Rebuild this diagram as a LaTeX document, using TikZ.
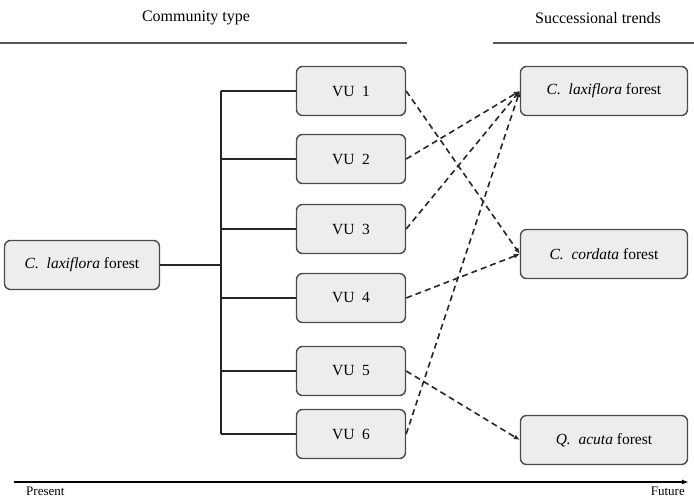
\documentclass[tikz,border=0pt]{standalone}
\usepackage{fontspec}
\setmainfont{Liberation Serif}
\usetikzlibrary{arrows.meta, positioning}

\begin{document}
\begin{tikzpicture}[
    x=1pt, y=-1pt,
    box/.style={draw=black!70, rounded corners=6pt, fill=black!7, line width=1.4pt, minimum height=49pt, font=\fontsize{15.5}{17}\selectfont},
    vubox/.style={box, minimum width=109pt},
    trendbox/.style={box, minimum width=167pt},
    header/.style={font=\fontsize{16}{18}\selectfont},
    axislabel/.style={inner sep=0pt, font=\fontsize{13}{14}\selectfont},
    branch/.style={draw, line width=1.4pt, black!85},
    trend/.style={draw, line width=1.6pt, black!85, dash pattern=on 6pt off 4pt, -{Latex[length=6pt,width=5pt]}}
]
\useasboundingbox (0,0) rectangle (694,498);

% Headers
\node[header] (hcomm) at (196,18) {Community type};
\node[header] (htrend) at (598,18) {Successional trends};
\draw[line width=2.4pt, black!65] (0,43) -- (407,43);
\draw[line width=2.4pt, black!65] (493,43) -- (694,43);

% Present community
\node[box, minimum width=155pt] (present) at (82,265) {\textit{C.\ \ laxiflora} forest};

% Vegetation units
\node[vubox] (vu1) at (351,91) {VU\ \ 1};
\node[vubox] (vu2) at (351,159) {VU\ \ 2};
\node[vubox] (vu3) at (351,229) {VU\ \ 3};
\node[vubox] (vu4) at (351,298) {VU\ \ 4};
\node[vubox] (vu5) at (351,371) {VU\ \ 5};
\node[vubox] (vu6) at (351,434) {VU\ \ 6};

% Successional trends
\node[trendbox] (lax) at (604,91) {\textit{C.\ \ laxiflora} forest};
\node[trendbox] (cor) at (604,254) {\textit{C.\ \ cordata} forest};
\node[trendbox] (acu) at (604,440) {\textit{Q.\ \ acuta} forest};

% Tree
\coordinate (trunk) at (221,265);
\draw[branch] (present.east) -- (trunk);
\draw[branch] (vu1.west -| trunk) -- (vu6.west -| trunk);
\foreach \v in {vu1,vu2,vu3,vu4,vu5,vu6}
  \draw[branch] (\v.west -| trunk) -- (\v.west);

% Trends
\draw[trend] (vu1.east) -- (cor.west);
\draw[trend] (vu2.east) -- (lax.west);
\draw[trend] (vu3.east) -- (lax.west);
\draw[trend] (vu4.east) -- (cor.west);
\draw[trend] (vu5.east) -- (acu.west);
\draw[trend] (vu6.east) -- (lax.west);

% Time axis
\coordinate (tstart) at (14,482);
\coordinate (tend) at (689,482);
\draw[line width=1.6pt, -{Latex[length=7pt,width=5pt]}] (tstart) -- (tend);
\node[axislabel, anchor=north west] (now) at (26,487) {Present};
\node[axislabel, anchor=north east] (later) at (685,487) {Future};

\end{tikzpicture}
\end{document}
